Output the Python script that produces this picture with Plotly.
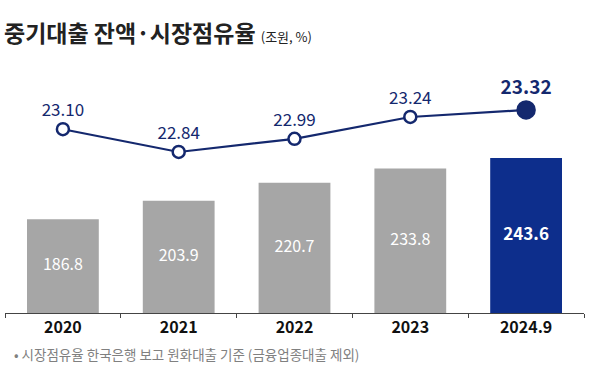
import plotly.graph_objects as go

categories = ["2020", "2021", "2022", "2023", "2024.9"]
balance = [186.8, 203.9, 220.7, 233.8, 243.6]
share = [23.10, 22.84, 22.99, 23.24, 23.32]

NAVY = "#14286e"
BLUE = "#0d2e8c"
GRAY = "#a6a6a6"
FONT = "Noto Sans CJK KR"
Y_MIN = 100

bar_colors = [GRAY] * (len(categories) - 1) + [BLUE]
bar_text = [f"{v:.1f}" for v in balance]
bar_text[-1] = f"<b>{balance[-1]:.1f}</b>"
label_y = [(Y_MIN + v) / 2 for v in balance]

line_text = [f"{v:.2f}" for v in share]
line_text[-1] = f"<b>{share[-1]:.2f}</b>"

fig = go.Figure()
fig.add_trace(go.Bar(
    x=categories, y=balance, marker=dict(color=bar_colors, line=dict(width=0)),
    width=0.62, hoverinfo="skip",
))
fig.add_trace(go.Scatter(
    x=categories, y=label_y, mode="text", text=bar_text,
    textposition="middle center",
    textfont=dict(color="white", size=[16, 16, 16, 16, 17], family=FONT), hoverinfo="skip",
))
fig.add_trace(go.Scatter(
    x=categories, y=share, yaxis="y2", mode="lines+markers+text",
    line=dict(color=NAVY, width=2.2),
    marker=dict(size=[12, 12, 12, 12, 17], opacity=1,
                color=["white"] * 4 + [NAVY],
                line=dict(color=NAVY, width=2.5)),
    text=line_text, textposition="top center",
    textfont=dict(color=NAVY, size=[17, 17, 17, 17, 19], family=FONT),
    cliponaxis=False, hoverinfo="skip",
))

fig.update_layout(
    width=600, height=372,
    margin=dict(l=5, r=16, t=60, b=59),
    paper_bgcolor="white", plot_bgcolor="white",
    showlegend=False,
    font=dict(family=FONT, color="#222"),
    xaxis=dict(
        type="category", range=[-0.5, 4.5], showline=True, linecolor="#444",
        linewidth=1, ticks="outside", tickson="boundaries", ticklen=4,
        tickcolor="#444", showgrid=False,
        tickfont=dict(size=16, color="#111", family=FONT),
        tickprefix="<b>", ticksuffix="</b>",
    ),
    yaxis=dict(range=[Y_MIN, 334.3], visible=False, showgrid=False),
    yaxis2=dict(range=[21.0, 23.891], overlaying="y", visible=False, showgrid=False),
    annotations=[
        dict(xref="paper", yref="paper", x=-0.005, y=1.0, yanchor="bottom", xanchor="left",
             yshift=9, showarrow=False,
             text="<b>중기대출 잔액·시장점유율</b> <span style='font-size:13px'>(조원, %)</span>",
             font=dict(size=23, color="#222", family=FONT)),
        dict(xref="paper", yref="paper", x=0.012, y=0, yanchor="top", xanchor="left",
             yshift=-29, showarrow=False,
             text="• 시장점유율 한국은행 보고 원화대출 기준 (금융업종대출 제외)",
             font=dict(size=13.5, color="#808080", family=FONT)),
    ],
)

fig.write_html("out.html", config={"displayModeBar": False},
               post_script="document.body.style.margin='0';document.body.style.overflow='hidden';")
